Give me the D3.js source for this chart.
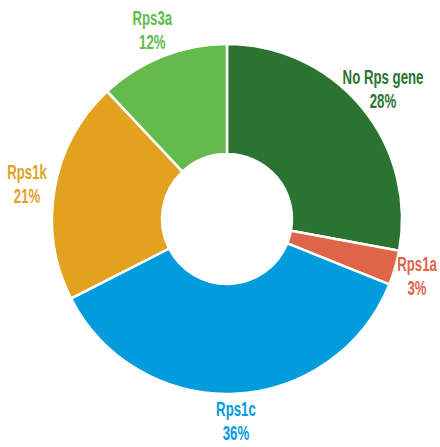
<!DOCTYPE html>
<html>
<head>
<meta charset="utf-8">
<script src="https://cdn.jsdelivr.net/npm/d3@7"></script>
<style>
  body { margin: 0; background: #fff; }
  text { font-family: "Liberation Sans", sans-serif; }
</style>
</head>
<body>
<div id="chart"></div>
<script>
// slice names and their shares (percent)
let categories = ["No Rps gene", "Rps1a", "Rps1c", "Rps1k", "Rps3a"];
let values = [27.9, 3.2, 36.4, 20.5, 12.0];
let colors = ["#2a7330", "#de6548", "#009cdc", "#e2a11f", "#62bb4b"];

let width = 440;
let height = 447;
let cx = 227, cy = 219;
let outerR = 175, innerR = 65, labelR = 203;
let squeeze = 0.63;

let data = categories.map((c, i) => ({name: c, value: values[i], color: colors[i]}));
let total = d3.sum(values);

let pie = d3.pie()
    .sort(null)
    .value(d => d.value);

let arc = d3.arc()
    .innerRadius(innerR)
    .outerRadius(outerR);

let labelArc = d3.arc()
    .innerRadius(labelR)
    .outerRadius(labelR);

let svg = d3.select("#chart")
    .append("svg")
    .attr("width", width)
    .attr("height", height);

let g = svg.append("g")
    .attr("transform", "translate(" + cx + "," + cy + ")");

let slices = pie(data);

g.selectAll("path")
    .data(slices)
    .enter()
    .append("path")
    .attr("d", arc)
    .attr("fill", d => d.data.color)
    .attr("stroke", "#fff")
    .attr("stroke-width", 2.5);

let label = g.selectAll(".label")
    .data(slices)
    .enter()
    .append("g")
    .attr("class", "label");

label.append("text")
    .attr("text-anchor", "middle")
    .attr("y", -5)
    .attr("font-size", 21)
    .attr("font-weight", "bold")
    .attr("fill", d => d.data.color)
    .text(d => d.data.name);

label.append("text")
    .attr("text-anchor", "middle")
    .attr("y", 19)
    .attr("font-size", 21)
    .attr("font-weight", "bold")
    .attr("fill", d => d.data.color)
    .text(d => Math.round(d.data.value / total * 100) + "%");

// place each label on the centroid direction, kept inside the picture
label.attr("transform", function (d) {
    let [x, y] = labelArc.centroid(d);
    let half = this.getBBox().width * squeeze / 2;
    x = Math.min(x, width - cx - half - 3);
    x = Math.max(x, -cx + half + 3);
    y = Math.min(y, height - cy - 26);
    return "translate(" + x + "," + y + ") scale(" + squeeze + ",1)";
});
</script>
</body>
</html>
